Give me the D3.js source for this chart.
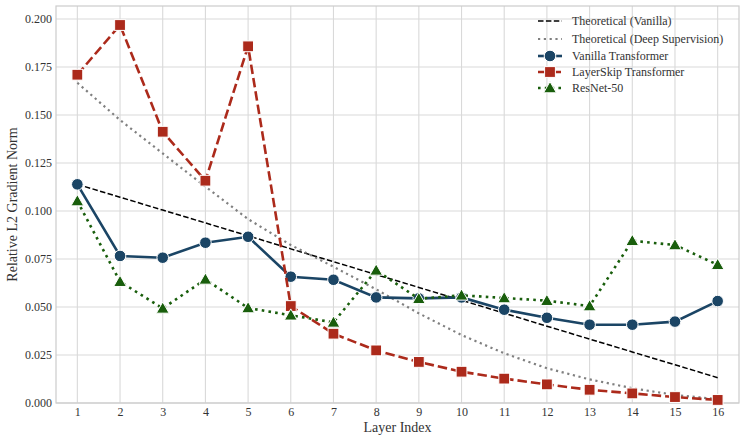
<!DOCTYPE html>
<html>
<head>
<meta charset="utf-8">
<script src="https://cdn.jsdelivr.net/npm/d3@7"></script>
<style>
  body { margin: 0; background: #fff; }
  svg text { font-family: "Liberation Serif", "DejaVu Serif", serif; fill: #333; }
</style>
</head>
<body>
<div id="chart"></div>
<script>
// data
const layers = [1, 2, 3, 4, 5, 6, 7, 8, 9, 10, 11, 12, 13, 14, 15, 16];
const theoVanilla = [0.1139, 0.1072, 0.1005, 0.0938, 0.0871, 0.0803, 0.0736, 0.0669, 0.0602, 0.0535, 0.0468, 0.0400, 0.0333, 0.0266, 0.0199, 0.0132];
const theoDeep = [0.1668, 0.1474, 0.1300, 0.1127, 0.0958, 0.0823, 0.0710, 0.0592, 0.0467, 0.0354, 0.0259, 0.0181, 0.0123, 0.0077, 0.0042, 0.0020];
const vanilla = [0.1139, 0.0766, 0.0757, 0.0835, 0.0866, 0.0658, 0.0642, 0.0550, 0.0545, 0.0550, 0.0486, 0.0444, 0.0408, 0.0408, 0.0424, 0.0531];
const layerSkip = [0.1710, 0.1969, 0.1413, 0.1158, 0.1858, 0.0505, 0.0361, 0.0274, 0.0214, 0.0163, 0.0127, 0.0097, 0.0069, 0.0050, 0.0031, 0.0016];
const resnet = [0.1052, 0.0632, 0.0493, 0.0644, 0.0495, 0.0457, 0.0420, 0.0691, 0.0543, 0.0561, 0.0547, 0.0533, 0.0505, 0.0845, 0.0823, 0.0720];
const yTicks = [0, 0.025, 0.05, 0.075, 0.1, 0.125, 0.15, 0.175, 0.2];

const series = [
  {name: "Theoretical (Vanilla)", values: theoVanilla, color: "#000", width: 1.5, dash: "5.5,2.4", marker: null},
  {name: "Theoretical (Deep Supervision)", values: theoDeep, color: "#808080", width: 2.2, dash: "2.2,3.6", marker: null},
  {name: "Vanilla Transformer", values: vanilla, color: "#1b4565", width: 2.6, dash: null, marker: "circle"},
  {name: "LayerSkip Transformer", values: layerSkip, color: "#ac2a1b", width: 2.6, dash: "9.5,4", marker: "square"},
  {name: "ResNet-50", values: resnet, color: "#195e0c", width: 2.6, dash: "2.6,4.2", marker: "triangle"}
];

const margin = {top: 6, right: 9, bottom: 39, left: 56};
const W = 748, H = 442;
const width = W - margin.left - margin.right;
const height = H - margin.top - margin.bottom;

const svg = d3.select("#chart").append("svg")
    .attr("width", W)
    .attr("height", H);

const g = svg.append("g")
    .attr("transform", "translate(" + margin.left + "," + margin.top + ")");

const x = d3.scaleLinear().domain([0.5, 16.5]).range([0, width]);
const y = d3.scaleLinear().domain([0, 0.2068]).range([height, 0]);

// grid
g.selectAll(".vgrid").data(layers).enter().append("line")
    .attr("x1", d => x(d)).attr("x2", d => x(d))
    .attr("y1", 0).attr("y2", height)
    .attr("stroke", "#d9d9d9").attr("stroke-width", 1.1);
g.selectAll(".hgrid").data(yTicks).enter().append("line")
    .attr("x1", 0).attr("x2", width)
    .attr("y1", d => y(d)).attr("y2", d => y(d))
    .attr("stroke", "#d9d9d9").attr("stroke-width", 1.1);

// frame
g.append("rect")
    .attr("width", width).attr("height", height)
    .attr("fill", "none").attr("stroke", "#cccccc").attr("stroke-width", 1.2);

// axes
const xAxis = g.append("g")
    .attr("transform", "translate(0," + height + ")")
    .call(d3.axisBottom(x).tickValues(layers).tickFormat(d3.format("d")).tickSize(0).tickPadding(4.5));
const yAxis = g.append("g")
    .call(d3.axisLeft(y).tickValues(yTicks).tickFormat(d3.format(".3f")).tickSize(0).tickPadding(4));
[xAxis, yAxis].forEach(a => {
  a.select(".domain").remove();
  a.selectAll("text").style("font-size", "12px").attr("fill", "#333")
      .style("font-family", "'Liberation Serif', serif");
});

svg.append("text")
    .attr("x", margin.left + width / 2).attr("y", 432)
    .attr("text-anchor", "middle")
    .style("font-size", "14px")
    .text("Layer Index");
svg.append("text")
    .attr("transform", "translate(17," + (margin.top + height / 2) + ") rotate(-90)")
    .attr("text-anchor", "middle")
    .style("font-size", "14px")
    .text("Relative L2 Gradient Norm");

const line = d3.line().x((d, i) => x(layers[i])).y(d => y(d));

function drawMarker(sel, type, color, cx, cy) {
  if (type === "circle") {
    sel.append("circle").attr("cx", cx).attr("cy", cy).attr("r", 5.8)
        .attr("fill", color).attr("stroke", "#fff").attr("stroke-width", 1);
  } else if (type === "square") {
    sel.append("rect").attr("x", cx - 5.4).attr("y", cy - 5.4).attr("width", 10.8).attr("height", 10.8)
        .attr("fill", color).attr("stroke", "#fff").attr("stroke-width", 1);
  } else if (type === "triangle") {
    const s = 6.4;
    sel.append("path")
        .attr("d", "M" + cx + "," + (cy - s) + "L" + (cx + s) + "," + (cy + s * 0.75) + "L" + (cx - s) + "," + (cy + s * 0.75) + "Z")
        .attr("fill", color).attr("stroke", "#fff").attr("stroke-width", 1);
  }
}

series.forEach(s => {
  g.append("path")
      .datum(s.values)
      .attr("d", line)
      .attr("fill", "none")
      .attr("stroke", s.color)
      .attr("stroke-width", s.width)
      .attr("stroke-dasharray", s.dash)
      .attr("stroke-linecap", "butt");
  if (s.marker) {
    const mg = g.append("g");
    s.values.forEach((v, i) => drawMarker(mg, s.marker, s.color, x(layers[i]), y(v)));
  }
});

// legend
const legendY = [21, 39, 56, 72, 88];
const leg = svg.append("g");
series.forEach((s, i) => {
  const ly = legendY[i];
  leg.append("line")
      .attr("x1", 538).attr("x2", 562).attr("y1", ly).attr("y2", ly)
      .attr("stroke", s.color).attr("stroke-width", s.width)
      .attr("stroke-dasharray", s.dash);
  if (s.marker) drawMarker(leg, s.marker, s.color, 550, ly);
  leg.append("text")
      .attr("x", 572).attr("y", ly + 4)
      .style("font-size", "12px")
      .text(s.name);
});
</script>
</body>
</html>
